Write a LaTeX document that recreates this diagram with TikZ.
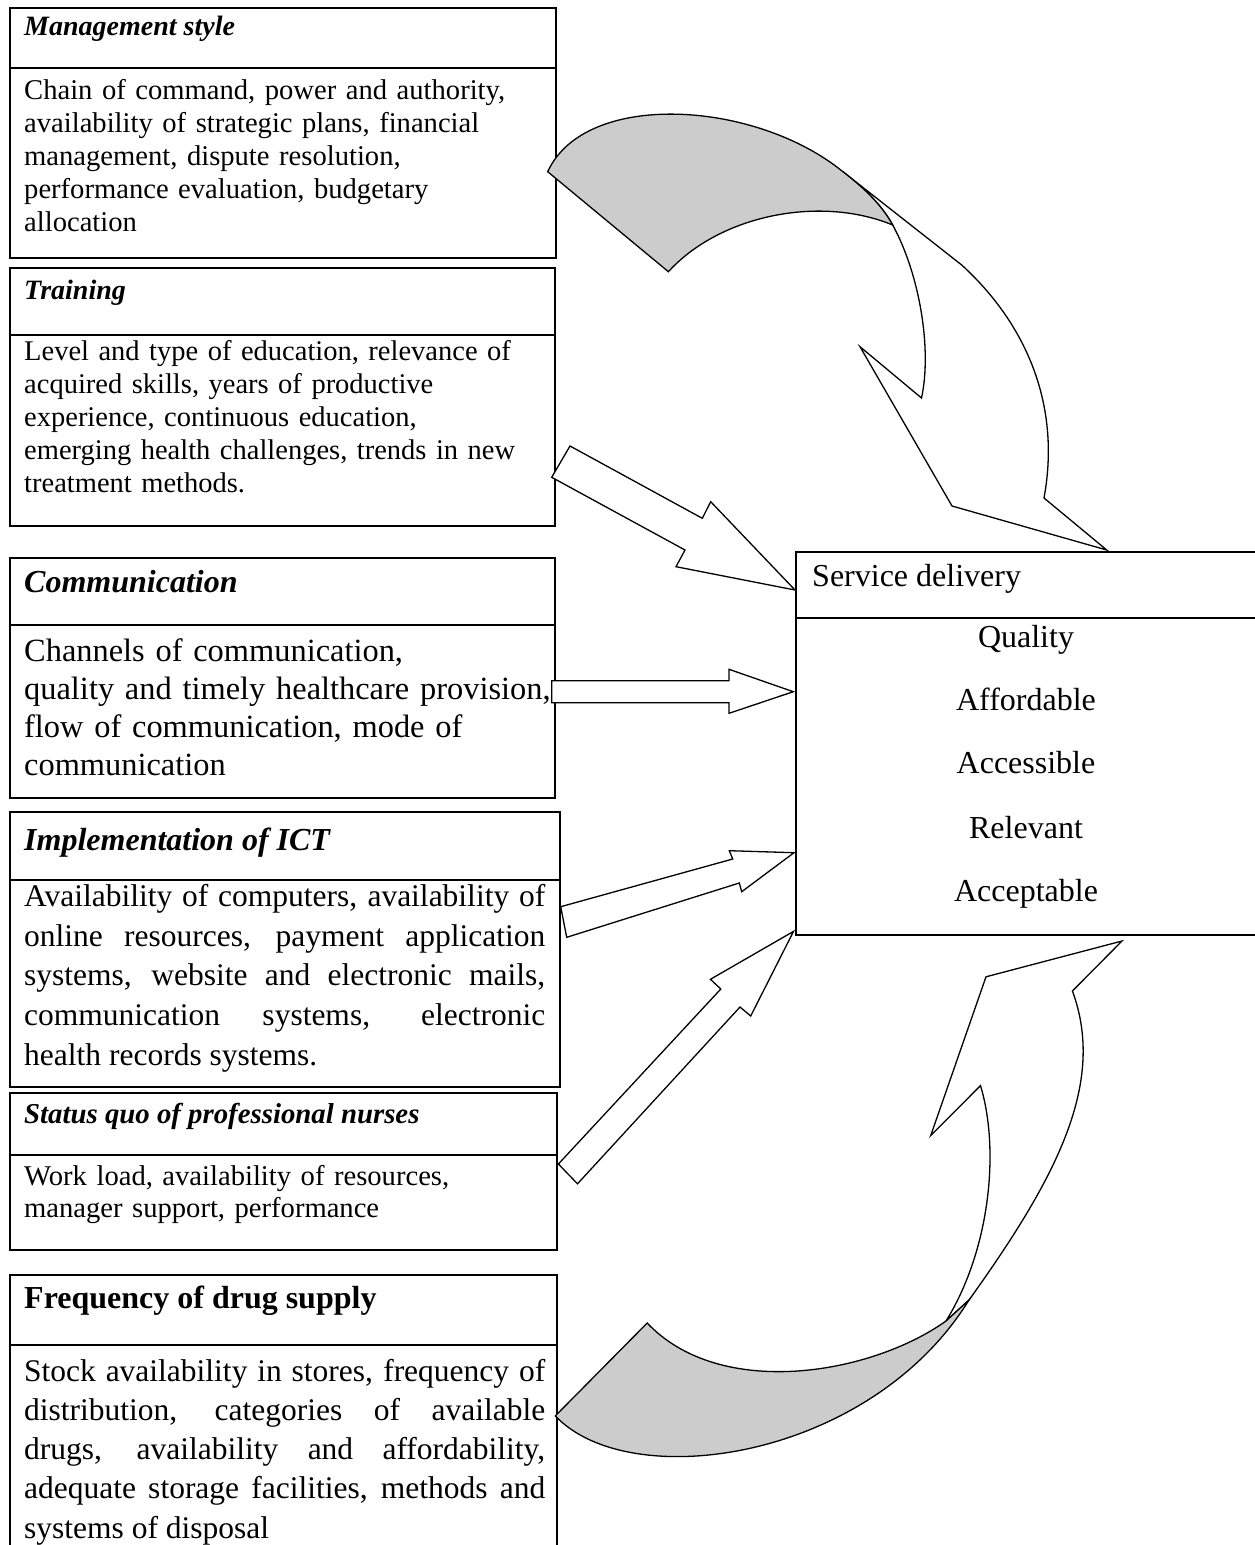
\documentclass[tikz,border=0pt]{standalone}
\usepackage{fontspec}
\setmainfont{Liberation Serif}
\definecolor{shade}{RGB}{204,204,204}
\newcommand{\myfs}[2]{\fontsize{#1}{#2}\selectfont}
\newcommand{\tstrut}{\rule{0pt}{0.75em}}
\begin{document}
\begin{tikzpicture}[x=1pt,y=-1pt,
  box/.style={draw, line width=1.8pt},
  arr/.style={draw, fill=white, line width=1.3pt, line join=miter},
  hd/.style={anchor=base west, inner sep=0pt},
  body/.style={anchor=north west, inner sep=0pt, text width=540pt, align=left},
  jbody/.style={anchor=north west, inner sep=0pt, text width=521pt, align=justify},
  item/.style={anchor=base, inner sep=0pt, font=\myfs{32}{36}}]
\useasboundingbox (0,0) rectangle (1255,1545);
\fill[white] (0,0) rectangle (1255,1545);

% boxes
\draw[box] (10,8) rectangle (556,258);   \draw[box] (10,68) -- (556,68);
\draw[box] (10,268) rectangle (555,526); \draw[box] (10,335) -- (555,335);
\draw[box] (10,558) rectangle (555,798); \draw[box] (10,625) -- (555,625);
\draw[box] (10,812) rectangle (560,1087); \draw[box] (10,880) -- (560,880);
\draw[box] (10,1093) rectangle (557,1250); \draw[box] (10,1155) -- (557,1155);
\draw[box] (10,1570) -- (10,1275) -- (557,1275) -- (557,1570); \draw[box] (10,1345) -- (557,1345);
\draw[box] (1270,552) -- (796,552) -- (796,935) -- (1270,935); \draw[box] (796,618) -- (1270,618);

% texts
\node[hd, font=\myfs{28}{32}\bfseries\itshape] (h1) at (24,35) {Management style};
\node[body, font=\myfs{28.6}{33}] (b1) at (24,77.5) {\tstrut Chain of command, power and authority,\\ availability of strategic plans, financial\\ management, dispute resolution,\\ performance evaluation, budgetary\\ allocation};

\node[hd, font=\myfs{28}{32}\bfseries\itshape] (h2) at (24,299) {Training};
\node[body, font=\myfs{28.5}{33}] (b2) at (24,338.5) {\tstrut Level and type of education, relevance of\\ acquired skills, years of productive\\ experience, continuous education,\\ emerging health challenges, trends in new\\ treatment methods.};

\node[hd, font=\myfs{32}{36}\bfseries\itshape] (h3) at (24,592) {Communication};
\node[body, font=\myfs{32.4}{38}] (b3) at (24,636.5) {\tstrut Channels of communication,\\ quality and timely healthcare provision,\\ flow of communication, mode of\\ communication};

\node[hd, font=\myfs{32}{36}\bfseries\itshape] (h4) at (24,850) {Implementation of ICT};
\node[jbody, font=\myfs{31.5}{39.75}] (b4) at (24,882.6) {\tstrut Availability of computers, availability of\linebreak online resources, payment application\linebreak systems, website and electronic mails,\linebreak communication systems, electronic\linebreak health records systems.};

\node[hd, font=\myfs{28.8}{33}\bfseries\itshape] (h5) at (24,1123) {Status quo of professional nurses};
\node[body, font=\myfs{28.6}{32}] (b5) at (24,1163.5) {\tstrut Work load, availability of resources,\\ manager support, performance};

\node[hd, font=\myfs{32}{36}\bfseries] (h6) at (24,1308) {Frequency of drug supply};
\node[jbody, font=\myfs{31.5}{39.25}] (b6) at (24,1357.4) {\tstrut Stock availability in stores, frequency of\linebreak distribution, categories of available\linebreak drugs, availability and affordability,\linebreak adequate storage facilities, methods and\linebreak systems of disposal};

\node[hd, font=\myfs{32}{36}] (sd) at (812,586) {Service delivery};
\node[item] (q1) at (1026,647) {Quality};
\node[item] (q2) at (1026,710) {Affordable};
\node[item] (q3) at (1026,773) {Accessible};
\node[item] (q4) at (1026,838) {Relevant};
\node[item] (q5) at (1026,901) {Acceptable};

% top curved arrow
\draw[arr] (842.9,171.7) -- (961.7,265) .. controls (1022,320) and (1062,400) .. (1044,498)
  -- (1106.7,550) -- (952,506) -- (860,346.7) -- (921.5,398)
  .. controls (932,350) and (920,275) .. (892.7,225)
  .. controls (880,202) and (860,185) .. cycle;
\draw[arr, fill=shade] (547.7,171.7) .. controls (585,90) and (755,100) .. (842.9,171.7)
  .. controls (860,185) and (880,202) .. (892.7,225)
  .. controls (820,195) and (720,215) .. (668.4,271.7) -- cycle;

% bottom curved arrow
\draw[arr] (969,1300) .. controls (1058,1176) and (1106,1082) .. (1072.4,991)
  -- (1122,941) -- (986,976.8) -- (930.7,1135.6) -- (980.5,1085.6)
  .. controls (1000,1150) and (990,1250) .. (946,1321) -- cycle;
\draw[arr, fill=shade] (555.3,1415.9) .. controls (630,1495) and (870,1460) .. (969,1300)
  -- (946,1321) .. controls (870,1375) and (720,1400) .. (647.2,1323) -- cycle;

% straight block arrows
\draw[arr] (570,446) -- (702.3,518.3) -- (710.7,501.7) -- (795,590) -- (676,566.7) -- (685,550) -- (551.7,477.3) -- cycle;
\draw[arr] (551.7,680.7) -- (729,680.7) -- (729,669.3) -- (793.3,691.7) -- (729,713.3) -- (729,702.7) -- (551.7,702.7) -- cycle;
\draw[arr] (560.7,906.7) -- (732.7,859) -- (729.3,850.7) -- (794,852.7) -- (741.7,891.7) -- (739.3,883) -- (566.7,937.3) -- cycle;
\draw[arr] (558.4,1164) -- (720.8,989) -- (710.4,979.3) -- (793.5,931.4) -- (750.7,1016) -- (740,1007) -- (577.5,1183.8) -- cycle;
\end{tikzpicture}
\end{document}
